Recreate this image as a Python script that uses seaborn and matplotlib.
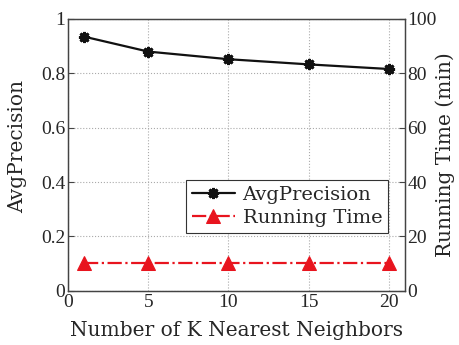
import matplotlib
matplotlib.use("Agg")
import matplotlib.pyplot as plt
import seaborn as sns
import pandas as pd

# data
k_values = [1, 5, 10, 15, 20]
avg_precision = [0.935, 0.880, 0.852, 0.833, 0.816]
running_time = [10.2, 10.2, 10.2, 10.2, 10.2]

df = pd.DataFrame({"K": k_values, "AvgPrecision": avg_precision,
                   "RunningTime": running_time})

sns.set_style("white")
plt.rcParams["font.family"] = ["DejaVu Serif"]

TICK_FONT = {"family": "Liberation Serif", "size": 14}
LABEL_FONT = {"family": "DejaVu Serif", "size": 14.5}

fig = plt.figure(figsize=(4.6, 3.45), dpi=100)
ax = fig.add_axes([0.148, 0.157, 0.732, 0.788])
ax2 = ax.twinx()

sns.lineplot(data=df, x="K", y="AvgPrecision", ax=ax, color="#111111",
             marker=(8, 2, 0), markersize=8, markeredgewidth=2,
             markeredgecolor="#111111", lw=1.6, label="AvgPrecision",
             legend=False)
sns.lineplot(data=df, x="K", y="RunningTime", ax=ax2, color="#e8141e",
             marker="^", markersize=10, markeredgecolor="#e8141e",
             lw=1.6, linestyle="-.", label="Running Time", legend=False)

ax.set_xlim(0, 21)
ax.set_ylim(0, 1)
ax2.set_ylim(0, 100)
ax.set_xticks([0, 5, 10, 15, 20])
ax.set_xticklabels(["0", "5", "10", "15", "20"], fontdict=TICK_FONT)
ax.set_yticks([0, 0.2, 0.4, 0.6, 0.8, 1])
ax.set_yticklabels(["0", "0.2", "0.4", "0.6", "0.8", "1"], fontdict=TICK_FONT)
ax2.set_yticks([0, 20, 40, 60, 80, 100])
ax2.set_yticklabels(["0", "20", "40", "60", "80", "100"], fontdict=TICK_FONT)

ax.grid(True, color="#aaaaaa", linestyle=":", lw=0.8)
ax.set_axisbelow(True)

for a in (ax, ax2):
    for s in a.spines.values():
        s.set_color("#444444")
        s.set_linewidth(0.9)
    a.tick_params(direction="in", length=4, width=0.8, pad=2,
                  color="#444444")
ax.tick_params(axis="x", pad=2)

ax.set_xlabel("Number of K Nearest Neighbors", fontdict=LABEL_FONT)
ax.set_ylabel("AvgPrecision", fontdict=LABEL_FONT)
ax2.set_ylabel("Running Time (min)", fontdict=LABEL_FONT, rotation=90)
ax.xaxis.set_label_coords(0.5, -0.11)
ax.yaxis.set_label_coords(-0.122, 0.53)
ax2.yaxis.set_label_coords(1.09, 0.5)
ax2.yaxis.label.set_va("top")

h1, l1 = ax.get_legend_handles_labels()
h2, l2 = ax2.get_legend_handles_labels()
leg = ax2.legend(h1 + h2, l1 + l2, loc="lower right",
                 bbox_to_anchor=(0.95, 0.213),
                 prop={"family": "DejaVu Serif", "size": 14},
                 fancybox=False, framealpha=1, edgecolor="#333333",
                 borderpad=0.3, handlelength=2.2, labelspacing=0.25,
                 handletextpad=0.4, borderaxespad=0)
leg.get_frame().set_linewidth(0.8)

plt.savefig("out.png", dpi=100)
plt.close()
